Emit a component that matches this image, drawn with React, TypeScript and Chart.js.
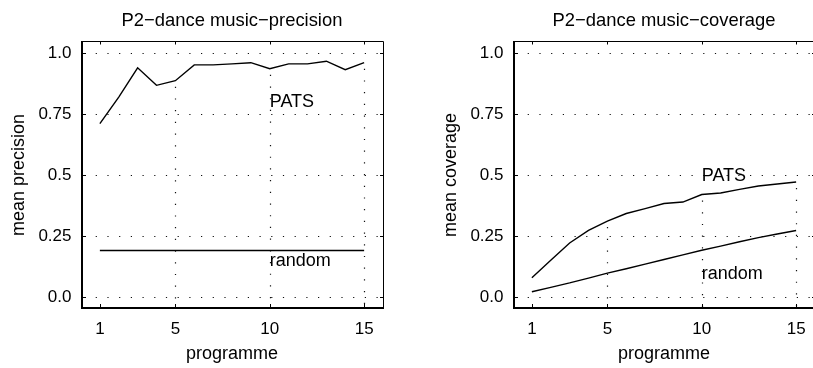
import React, { useEffect, useRef } from "react";
import { Chart, registerables } from "chart.js";

Chart.register(...registerables);

// ---- data ----
const programmes = [1, 2, 3, 4, 5, 6, 7, 8, 9, 10, 11, 12, 13, 14, 15];
const xTickValues = [1, 5, 10, 15];
const xGridValues = [5, 10, 15];
const yTickValues = [0, 0.25, 0.5, 0.75, 1.0];
const yTickLabels = ["0.0", "0.25", "0.5", "0.75", "1.0"];

const precisionPATS = [0.711, 0.82, 0.94, 0.868, 0.887, 0.952, 0.952, 0.956, 0.961, 0.936, 0.956, 0.956, 0.967, 0.932, 0.961];
const precisionRandom = [0.19, 0.19, 0.19, 0.19, 0.19, 0.19, 0.19, 0.19, 0.19, 0.19, 0.19, 0.19, 0.19, 0.19, 0.19];
const coveragePATS = [0.078, 0.15, 0.221, 0.273, 0.311, 0.342, 0.362, 0.383, 0.389, 0.42, 0.426, 0.441, 0.455, 0.463, 0.471];
const coverageRandom = [0.021, 0.039, 0.057, 0.077, 0.097, 0.115, 0.134, 0.153, 0.172, 0.191, 0.208, 0.226, 0.243, 0.258, 0.272];

const precisionNotes = [
  { text: "PATS", x: 10, y: 0.8 },
  { text: "random", x: 10, y: 0.146 },
];
const coverageNotes = [
  { text: "PATS", x: 10, y: 0.495 },
  { text: "random", x: 10, y: 0.094 },
];

const FONT = '"Liberation Sans", Arial, Helvetica, sans-serif';

type Note = { text: string; x: number; y: number };

function makeFramePlugin(title: string, notes: Note[]) {
  return {
    id: "frameAndNotes",
    beforeDatasetsDraw(chart: any) {
      const { ctx, chartArea } = chart;
      const xs = chart.scales.x;
      const ys = chart.scales.y;
      const { left, right, top, bottom } = chartArea;
      ctx.save();
      ctx.strokeStyle = "#111";
      ctx.lineWidth = 1.2;
      ctx.setLineDash([1.2, 10.5]);
      // horizontal dotted grid
      for (const v of yTickValues) {
        const y = Math.round(ys.getPixelForValue(v)) + 0.5;
        ctx.beginPath();
        ctx.moveTo(left + 3, y);
        ctx.lineTo(right, y);
        ctx.stroke();
      }
      // vertical dotted grid, from just below the first series down
      const first = chart.data.datasets[0].data as { x: number; y: number }[];
      for (const v of xGridValues) {
        const pt = first.find((p) => p.x === v);
        const x = Math.round(xs.getPixelForValue(v)) + 0.5;
        const yStart = pt ? ys.getPixelForValue(pt.y) + 6 : top;
        ctx.beginPath();
        ctx.moveTo(x, yStart);
        ctx.lineTo(x, bottom);
        ctx.stroke();
      }
      ctx.restore();
    },
    afterDatasetsDraw(chart: any) {
      const { ctx, chartArea } = chart;
      const xs = chart.scales.x;
      const ys = chart.scales.y;
      const { left, right, top, bottom } = chartArea;
      ctx.save();
      ctx.setLineDash([]);
      ctx.strokeStyle = "#000";
      // thin top and right
      ctx.lineWidth = 1;
      ctx.beginPath();
      ctx.moveTo(left, top + 0.5);
      ctx.lineTo(right + 0.5, top + 0.5);
      ctx.lineTo(right + 0.5, bottom);
      ctx.stroke();
      // thick left and bottom
      ctx.lineWidth = 2;
      ctx.beginPath();
      ctx.moveTo(left + 1, top);
      ctx.lineTo(left + 1, bottom - 1);
      ctx.lineTo(right + 1, bottom - 1);
      ctx.stroke();
      // inward tick marks
      ctx.lineWidth = 1;
      for (const v of xTickValues) {
        const x = Math.round(xs.getPixelForValue(v)) + 0.5;
        ctx.beginPath();
        ctx.moveTo(x, top);
        ctx.lineTo(x, top + 3.5);
        ctx.moveTo(x, bottom - 2);
        ctx.lineTo(x, bottom - 5);
        ctx.stroke();
      }
      for (const v of yTickValues) {
        const y = Math.round(ys.getPixelForValue(v)) + 0.5;
        ctx.beginPath();
        ctx.moveTo(left + 2, y);
        ctx.lineTo(left + 5, y);
        ctx.moveTo(right, y);
        ctx.lineTo(right - 3, y);
        ctx.stroke();
      }
      // text notes
      ctx.fillStyle = "#000";
      ctx.font = `18px ${FONT}`;
      ctx.textAlign = "left";
      ctx.textBaseline = "middle";
      for (const n of notes) {
        ctx.fillText(n.text, xs.getPixelForValue(n.x), ys.getPixelForValue(n.y));
      }
      // title centred over the plot box
      ctx.font = `18.4px ${FONT}`;
      ctx.textAlign = "center";
      ctx.textBaseline = "middle";
      ctx.fillText(title, (left + right) / 2, 20.5);
      ctx.restore();
    },
  };
}

function makeConfig(title: string, yTitle: string, a: number[], b: number[], notes: Note[]): any {
  const toPts = (arr: number[]) => programmes.map((p, i) => ({ x: p, y: arr[i] }));
  return {
    type: "line",
    data: {
      datasets: [
        { data: toPts(a), borderColor: "#000", borderWidth: 1.4, pointRadius: 0, fill: false, tension: 0 },
        { data: toPts(b), borderColor: "#000", borderWidth: 1.4, pointRadius: 0, fill: false, tension: 0 },
      ],
    },
    options: {
      responsive: false,
      animation: false,
      devicePixelRatio: 1,
      layout: { padding: { left: 0, right: 17, top: 41, bottom: 0 } },
      plugins: {
        legend: { display: false },
        tooltip: { enabled: false },
        title: { display: false },
      },
      scales: {
        x: {
          type: "linear",
          min: 0,
          max: 16,
          afterBuildTicks: (s: any) => {
            s.ticks = xTickValues.map((v) => ({ value: v }));
          },
          afterFit: (s: any) => {
            s.height = 59;
          },
          ticks: {
            color: "#000",
            font: { family: FONT, size: 17 },
            padding: 10.5,
            maxRotation: 0,
            autoSkip: false,
            callback: (v: number) => String(v),
          },
          grid: { display: false, drawTicks: false },
          border: { display: false },
          title: {
            display: true,
            text: "programme",
            color: "#000",
            font: { family: FONT, size: 18 },
            padding: { top: 0, bottom: 3 },
          },
        },
        y: {
          type: "linear",
          min: -0.05,
          max: 1.05,
          afterBuildTicks: (s: any) => {
            s.ticks = yTickValues.map((v) => ({ value: v }));
          },
          afterFit: (s: any) => {
            s.width = 81;
          },
          ticks: {
            color: "#000",
            font: { family: FONT, size: 17 },
            padding: 9.5,
            autoSkip: false,
            callback: (v: number) => {
              const i = yTickValues.indexOf(v);
              return i >= 0 ? yTickLabels[i] : "";
            },
          },
          grid: { display: false, drawTicks: false },
          border: { display: false },
          title: {
            display: true,
            text: yTitle,
            color: "#000",
            font: { family: FONT, size: 18 },
            padding: { top: 8.5, bottom: 0 },
          },
        },
      },
    },
    plugins: [makeFramePlugin(title, notes)],
  };
}

function Panel(props: { left: number; title: string; yTitle: string; a: number[]; b: number[]; notes: Note[] }) {
  const ref = useRef<HTMLCanvasElement | null>(null);
  useEffect(() => {
    if (!ref.current) return;
    const chart = new Chart(ref.current, makeConfig(props.title, props.yTitle, props.a, props.b, props.notes));
    return () => chart.destroy();
  }, []);
  return (
    <canvas
      ref={ref}
      width={400}
      height={368}
      style={{ position: "absolute", left: props.left, top: 0, width: 400, height: 368 }}
    />
  );
}

export default function App() {
  return (
    <div
      style={{
        position: "fixed",
        left: 0,
        top: 0,
        width: 813,
        height: 368,
        overflow: "hidden",
        background: "#fff",
      }}
    >
      <Panel left={0} title="P2−dance music−precision" yTitle="mean precision" a={precisionPATS} b={precisionRandom} notes={precisionNotes} />
      <Panel left={432} title="P2−dance music−coverage" yTitle="mean coverage" a={coveragePATS} b={coverageRandom} notes={coverageNotes} />
    </div>
  );
}
